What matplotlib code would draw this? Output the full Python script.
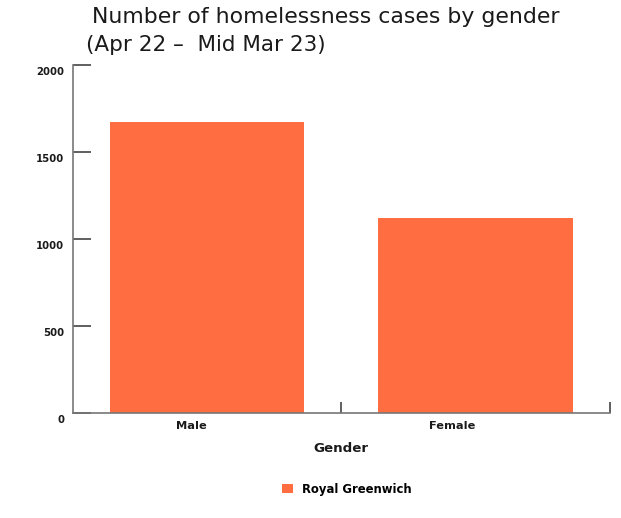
import matplotlib
matplotlib.use("Agg")
import matplotlib.pyplot as plt
from matplotlib.patches import Patch
from matplotlib.transforms import ScaledTranslation

categories = ["Male", "Female"]
values = [1672, 1122]
series_name = "Royal Greenwich"
yticks = [0, 500, 1000, 1500, 2000]

bar_color = "#FF6D40"
text_color = "#1a1a1a"

plt.rcParams['font.family'] = ['DejaVu Sans']

fig = plt.figure(figsize=(6.21, 5.18), dpi=100)
ax = fig.add_axes([72.7/621, 1-413/518, (610-72.7)/621, (413-65)/518])

x = list(range(len(categories)))
ax.bar(x, values, width=0.725, color=bar_color, zorder=2, label=series_name)
ax.set_xlim(-0.5, len(categories) - 0.5)
ax.set_ylim(0, 2000)

for s in ["top", "right"]:
    ax.spines[s].set_visible(False)
for s in ["left", "bottom"]:
    ax.spines[s].set_color("#777777")
    ax.spines[s].set_linewidth(1.2)

ax.set_yticks(yticks)
ax.set_yticklabels([str(v) for v in yticks], fontsize=7.3, fontweight="bold", color=text_color)
ax.tick_params(axis="y", direction="in", length=13, width=1.2, color="#444444", pad=6)
for lab in ax.get_yticklabels():
    lab.set_transform(lab.get_transform() + ScaledTranslation(0, -6/100, fig.dpi_scale_trans))

# category ticks at boundaries, labels ending at category centre
ax.set_xticks([0.5, 1.5])
ax.set_xticklabels([])
ax.tick_params(axis="x", direction="in", length=8, width=1.2, color="#444444")
ax.set_xticks(x, minor=True)
ax.set_xticklabels(categories, minor=True, fontsize=8.2, fontweight="bold", color=text_color, ha="right")
ax.tick_params(axis="x", which="minor", length=0, pad=6)

ax.set_xlabel("Gender", fontsize=9.6, fontweight="bold", color=text_color, labelpad=8)

fig.text(92/621, 1-17/518, "Number of homelessness cases by gender", fontsize=15.8,
         ha="left", va="center", color=text_color)
fig.text(86/621, 1-45/518, "(Apr 22 \u2013  Mid Mar 23)", fontsize=15.5,
         ha="left", va="center", color=text_color)

handles = [Patch(facecolor=bar_color, edgecolor="none", label=series_name)]
fig.legend(handles=handles, loc="center", bbox_to_anchor=(347/621, 1-489/518),
           frameon=False, handlelength=0.9, handleheight=0.9,
           handletextpad=0.8, prop={'weight': 'bold', 'size': 8.4})

fig.savefig("out.png", dpi=100)
